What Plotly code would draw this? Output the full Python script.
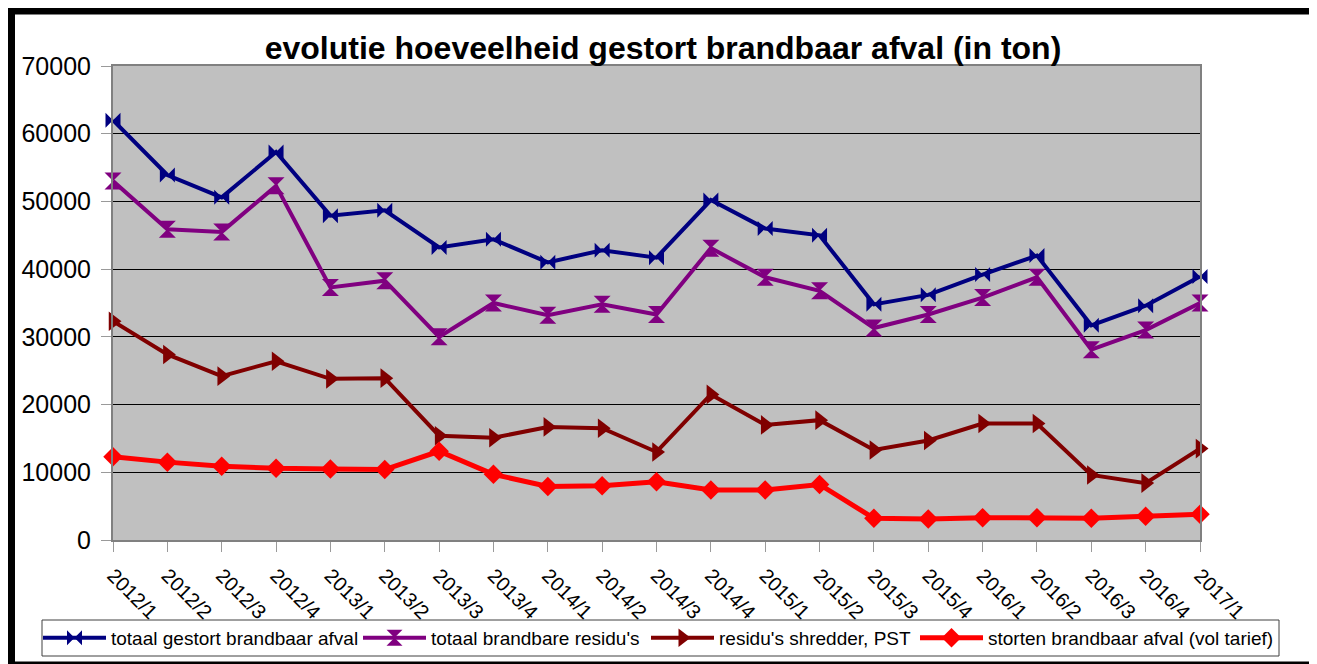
import plotly.graph_objects as go

categories = ["2012/1", "2012/2", "2012/3", "2012/4",
              "2013/1", "2013/2", "2013/3", "2013/4",
              "2014/1", "2014/2", "2014/3", "2014/4",
              "2015/1", "2015/2", "2015/3", "2015/4",
              "2016/1", "2016/2", "2016/3", "2016/4",
              "2017/1"]

totaal_gestort = [62000, 53900, 50600, 57300, 47900, 48700, 43200, 44400, 41000, 42800,
                  41700, 50200, 46000, 45000, 34800, 36200, 39200, 42000, 31700, 34600, 38900]
totaal_residus = [53000, 45900, 45500, 52300, 37300, 38300, 30000, 35000, 33200, 34800,
                  33300, 43100, 38800, 36800, 31300, 33300, 35800, 38800, 28100, 31000, 35000]
residus_shredder = [32300, 27400, 24200, 26400, 23800, 23900, 15400, 15100, 16700, 16500,
                    13000, 21500, 17000, 17700, 13300, 14700, 17200, 17200, 9600, 8400, 13500]
storten_vol = [12300, 11500, 10900, 10600, 10500, 10400, 13100, 9700, 7900, 8000,
               8600, 7400, 7400, 8200, 3200, 3100, 3300, 3300, 3200, 3500, 3800]

series_names = ["totaal gestort brandbaar afval", "totaal brandbare residu's",
                "residu's shredder, PST", "storten brandbaar afval (vol tarief)"]
y_ticks = [0, 10000, 20000, 30000, 40000, 50000, 60000, 70000]

# The page has an 8px body margin; reference pixel coords are page coords.
OFF = 8
W, H = 1317 - OFF, 664 - OFF
# plot area in page pixels
L, R, T, B = 113, 1200, 66, 540


def px_x(px):
    return (px - L) / (R - L)


def px_y(py):
    return (B - py) / (B - T)


styles = [
    dict(color="#000080", symbol="bowtie", size=15, width=4, legend="legend"),
    dict(color="#800080", symbol="hourglass", size=17, width=4, legend="legend2"),
    dict(color="#800000", symbol="triangle-right", size=17, width=4, legend="legend3"),
    dict(color="#FF0000", symbol="diamond", size=15, width=5, legend="legend4"),
]
values = [totaal_gestort, totaal_residus, residus_shredder, storten_vol]

fig = go.Figure()
for name, vals, st in zip(series_names, values, styles):
    fig.add_trace(go.Scatter(
        x=categories, y=vals, mode="lines+markers", name=name,
        line=dict(color=st["color"], width=st["width"]),
        marker=dict(symbol=st["symbol"], size=st["size"], color=st["color"],
                    line=dict(width=0)),
        cliponaxis=False, legend=st["legend"],
    ))

text_starts = [111, 431, 719, 988]
ITEM_W = 63
leg_common = dict(orientation="h", yanchor="middle", xanchor="left",
                  bgcolor="rgba(0,0,0,0)", borderwidth=0, itemwidth=ITEM_W,
                  font=dict(size=19, color="black"))
legends = {}
for i, ts in enumerate(text_starts):
    key = "legend" if i == 0 else f"legend{i+1}"
    legends[key] = dict(leg_common, x=px_x(ts - ITEM_W - 10), y=px_y(638))

fig.update_layout(
    width=W, height=H,
    margin=dict(l=L - OFF, r=W - (R - OFF), t=T - OFF, b=H - (B - OFF), pad=0,
                autoexpand=False),
    paper_bgcolor="white", plot_bgcolor="#C0C0C0",
    font=dict(family="Liberation Sans, Arial, sans-serif", color="black"),
    title=dict(text="<b>evolutie hoeveelheid gestort brandbaar afval (in ton)</b>",
               x=(663 - OFF) / W, xanchor="center", y=1 - (48 - OFF) / H, yanchor="middle",
               font=dict(size=32, color="black")),
    xaxis=dict(type="category", range=[0, len(categories) - 1], automargin=False,
               tickmode="array", tickvals=categories, ticktext=categories,
               tickangle=45, ticks="outside", ticklen=10, tickcolor="#9a9a9a", tickwidth=1,
               ticklabelstandoff=4,
               showgrid=False, showline=True, linecolor="#808080", linewidth=2, mirror=True,
               tickfont=dict(size=20, color="black")),
    yaxis=dict(range=[0, 70000], tickmode="array", tickvals=y_ticks, automargin=False,
               ticktext=[str(v) for v in y_ticks],
               ticks="outside", ticklen=10, tickcolor="#9a9a9a", tickwidth=1,
               ticklabelstandoff=5,
               showgrid=True, gridcolor="#000000", gridwidth=1, zeroline=False,
               showline=True, linecolor="#808080", linewidth=2, mirror=True,
               tickfont=dict(size=25, color="black")),
    showlegend=True,
    **legends,
    shapes=[
        # legend box
        dict(type="rect", xref="paper", yref="paper", layer="above",
             x0=px_x(42), x1=px_x(1279), y0=px_y(656), y1=px_y(620),
             line=dict(color="#404040", width=1), fillcolor="white"),
        # outer frame
        dict(type="rect", xref="paper", yref="paper", layer="above",
             x0=px_x(11.5), x1=px_x(1312.5), y0=px_y(665), y1=px_y(11),
             line=dict(color="black", width=7), fillcolor="rgba(0,0,0,0)"),
    ],
)

fig.write_html("out.html")
